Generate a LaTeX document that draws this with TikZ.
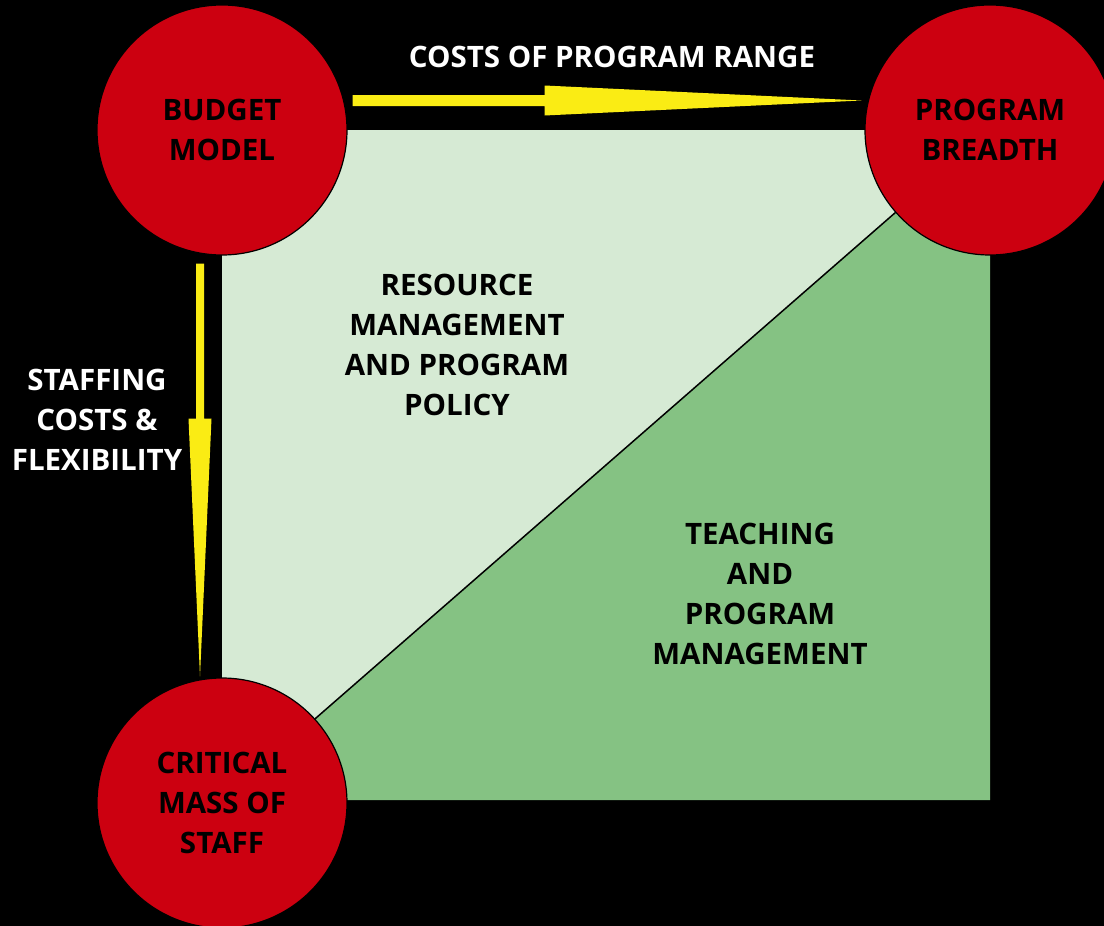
\documentclass[tikz,border=0pt]{standalone}
\usepackage{fontspec}
\setmainfont{Open Sans}
\usetikzlibrary{calc}
\definecolor{bgred}{RGB}{204,0,16}
\definecolor{lightg}{RGB}{214,234,212}
\definecolor{darkg}{RGB}{133,194,131}
\definecolor{ylw}{RGB}{250,236,20}
\tikzset{
  hub/.style={circle,draw=black,line width=1.2pt,fill=bgred,minimum size=250pt,inner sep=0pt,
    align=center,font=\fontsize{29.5}{40}\selectfont\bfseries,text=black},
  lbl/.style={align=center,inner sep=0pt,font=\fontsize{29.5}{40}\selectfont\bfseries},
  wlbl/.style={lbl,text=white},
  flow/.style={fill=ylw,draw=none}
}
\begin{document}
\begin{tikzpicture}[x=1pt,y=-1pt]
\fill[black] (0,0) rectangle (1104,926);
\useasboundingbox (0,0) rectangle (1104,926);
\coordinate (sqTL) at (222,130);
\coordinate (sqTR) at (990,130);
\coordinate (sqBL) at (222,800);
\coordinate (sqBR) at (990,800);
\fill[lightg] (sqTL) -- (sqTR) -- (sqBL) -- cycle;
\fill[darkg] (sqTR) -- (sqBR) -- (sqBL) -- cycle;
\draw[black,line width=1.5pt] (sqBL) -- (sqTR);
\node[hub] (budget) at (222,130) {BUDGET\\MODEL};
\node[hub] (breadth) at (990,130) {PROGRAM\\BREADTH};
\node[hub] (critical) at (222,803) {CRITICAL\\MASS OF\\STAFF};
% horizontal arrow: budget -> breadth
\coordinate (h1) at ($(budget.east)+(5,-29.5)$);
\coordinate (h2) at ($(breadth.west)+(-3,-29.5)$);
\fill[flow] ($(h1)+(0,-5.5)$) -- ($(h1)+(192,-5.5)$) -- ($(h1)+(192,-15)$) -- (h2)
  -- ($(h1)+(192,15)$) -- ($(h1)+(192,5.5)$) -- ($(h1)+(0,5.5)$) -- cycle;
% vertical arrow: budget -> critical
\coordinate (v1) at ($(budget.south)+(-22,8)$);
\coordinate (v2) at ($(critical.north)+(-22,-1)$);
\fill[flow] ($(v1)+(-4,0)$) -- ($(v1)+(-4,155)$) -- ($(v1)+(-11.5,155)$) -- (v2)
  -- ($(v1)+(11.5,155)$) -- ($(v1)+(4,155)$) -- ($(v1)+(4,0)$) -- cycle;
\node[wlbl] (tcost) at (612,57) {COSTS OF PROGRAM RANGE};
\node[wlbl] (tstaff) at (97,420) {STAFFING\\COSTS \&\\FLEXIBILITY};
\node[lbl] (tres) at (457,345) {RESOURCE\\MANAGEMENT\\AND PROGRAM\\POLICY};
\node[lbl] (tteach) at (760,594) {TEACHING\\AND\\PROGRAM\\MANAGEMENT};
\end{tikzpicture}
\end{document}
